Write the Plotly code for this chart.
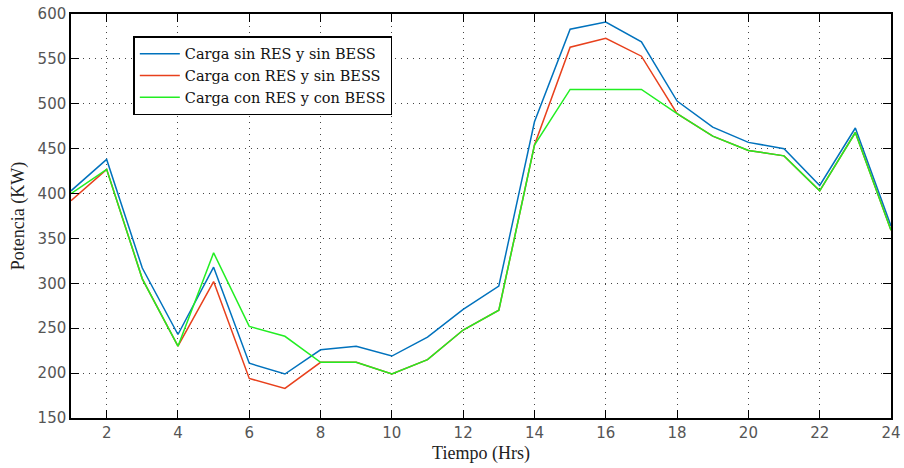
import plotly.graph_objects as go

hours = list(range(1, 25))
carga_sin_res_sin_bess = [403, 438, 317, 243, 318, 211, 199, 226, 230, 219, 240, 271, 297,
                          480, 583, 591, 569, 503, 474, 457, 450, 409, 473, 364]
carga_con_res_sin_bess = [392, 427, 305, 230, 302, 194, 183, 212, 212, 199, 215, 248, 270,
                          454, 563, 573, 553, 489, 464, 448, 442, 403, 468, 359]
carga_con_res_con_bess = [400, 427, 305, 230, 334, 252, 241, 212, 212, 199, 215, 248, 270,
                          454, 516, 516, 516, 489, 464, 448, 442, 403, 468, 359]

names = ["Carga sin RES y sin BESS", "Carga con RES y sin BESS", "Carga con RES y con BESS"]
colors = ["#0072BD", "#E8401C", "#22EE22"]
series = [carga_sin_res_sin_bess, carga_con_res_sin_bess, carga_con_res_con_bess]

fig = go.Figure()
for n, c, s in zip(names, colors, series):
    fig.add_trace(go.Scatter(x=hours, y=s, mode="lines", name=n,
                             line=dict(color=c, width=1.5)))

font_serif = "Liberation Serif, Times New Roman, serif"
font_legend = "DejaVu Serif, serif"
font_tick = "DejaVu Sans, sans-serif"
axis_common = dict(
    showline=True, linecolor="black", linewidth=1.5, mirror="ticks",
    ticks="inside", ticklen=8, tickcolor="black", tickwidth=1,
    showgrid=True, gridcolor="#444444", griddash="1px,5px", gridwidth=1,
    zeroline=False, automargin=False,
    tickfont=dict(family=font_tick, size=15, color="#555555"),
)
fig.update_xaxes(range=[1, 24], tickvals=list(range(2, 25, 2)),
                 title=dict(text="Tiempo (Hrs)", font=dict(family=font_serif, size=18, color="#222"), standoff=6),
                 **axis_common)
fig.update_yaxes(range=[150, 600], tickvals=list(range(150, 601, 50)),
                 title=dict(text="Potencia (KW)", font=dict(family=font_serif, size=18, color="#222"), standoff=8),
                 **axis_common)

fig.update_layout(
    width=904, height=468,
    margin=dict(l=71, r=13, t=14, b=50, autoexpand=False),
    paper_bgcolor="white", plot_bgcolor="white",
    showlegend=True,
    legend=dict(x=0.076, y=0.945, xanchor="left", yanchor="top",
                bgcolor="white", bordercolor="black", borderwidth=1.5,
                font=dict(family=font_legend, size=14.5, color="#111"),
                tracegroupgap=0, itemwidth=40),
)

fig.write_html("out.html")
